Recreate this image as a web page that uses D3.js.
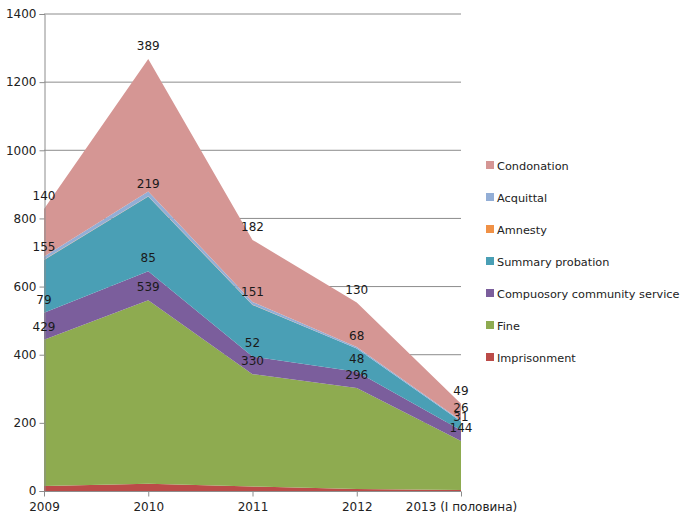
<!DOCTYPE html>
<html>
<head>
<meta charset="utf-8">
<script src="https://cdn.jsdelivr.net/npm/d3@7"></script>
<style>
  body { margin: 0; background: #fff; }
  svg { display: block; font-family: "DejaVu Sans", sans-serif; }
</style>
</head>
<body>
<svg id="chart" width="685" height="518"></svg>
<script>
// Categories (years)
const years = ["2009", "2010", "2011", "2012", "2013 (I половина)"];

// Series values, bottom to top of the stack
const imprisonment = [15, 21, 13, 6, 3];
const fine = [429, 539, 330, 296, 144];
const communityService = [79, 85, 52, 48, 31];
const summaryProbation = [155, 219, 151, 68, 26];
const amnesty = [1, 1, 1, 0, 0];
const acquittal = [9, 14, 8, 5, 3];
const condonation = [140, 389, 182, 130, 49];

const seriesNames = ["Imprisonment", "Fine", "Compuosory community service",
  "Summary probation", "Amnesty", "Acquittal", "Condonation"];
const seriesValues = [imprisonment, fine, communityService, summaryProbation,
  amnesty, acquittal, condonation];
const seriesColors = ["#bb4b48", "#8eab50", "#7b5e9c", "#4a9fb5",
  "#f09146", "#93aed6", "#d59694"];
// Series whose values are printed on the chart
const labelled = new Set(["Fine", "Compuosory community service", "Summary probation", "Condonation"]);

const yTicks = [0, 200, 400, 600, 800, 1000, 1200, 1400];

const rows = years.map((y, i) => {
  const r = { year: y };
  seriesNames.forEach((n, k) => r[n] = seriesValues[k][i]);
  return r;
});

const svg = d3.select("#chart");
const x = d3.scalePoint().domain(years).range([44, 461]);
const y = d3.scaleLinear().domain([0, 1400]).range([491, 14]);

// Gridlines
svg.append("g").selectAll("line").data(yTicks.slice(1)).join("line")
  .attr("x1", 44).attr("x2", 461)
  .attr("y1", d => y(d)).attr("y2", d => y(d))
  .attr("stroke", "#8c8c8c").attr("stroke-width", 1);

// Stacked areas
const stack = d3.stack().keys(seriesNames)(rows);
const area = d3.area()
  .x(d => x(d.data.year))
  .y0(d => y(d[0]))
  .y1(d => y(d[1]));

svg.append("g").selectAll("path").data(stack).join("path")
  .attr("d", area)
  .attr("fill", (d, i) => seriesColors[i]);

// Axes
const yAxis = d3.axisLeft(y).tickValues(yTicks).tickFormat(d3.format("d"))
  .tickSize(5).tickPadding(3);
const gy = svg.append("g").attr("transform", "translate(44.5,0)").call(yAxis);
gy.select(".domain").attr("stroke", "#8c8c8c");
gy.selectAll(".tick line").attr("stroke", "#8c8c8c");
gy.selectAll(".tick text").attr("font-size", 12).attr("fill", "#222")
  .attr("font-family", "DejaVu Sans, sans-serif");

const xAxis = d3.axisBottom(x).tickSize(5).tickPadding(6);
const gx = svg.append("g").attr("transform", "translate(0,491.5)").call(xAxis);
gx.select(".domain").attr("stroke", "#8c8c8c").attr("d", "M44,0H461");
gx.selectAll(".tick line").attr("stroke", "#8c8c8c");
gx.selectAll(".tick text").attr("font-size", 12).attr("fill", "#222")
  .attr("font-family", "DejaVu Sans, sans-serif");

// Data labels above each labelled series' upper edge
const labels = [];
stack.forEach(s => {
  if (!labelled.has(s.key)) return;
  s.forEach(d => labels.push({ key: s.key, year: d.data.year, top: d[1], value: d.data[s.key] }));
});
svg.append("g").selectAll("text").data(labels).join("text")
  .attr("x", d => x(d.year))
  .attr("y", d => y(d.top) - 9)
  .attr("text-anchor", "middle")
  .attr("font-size", 12)
  .attr("fill", "#1a1a1a")
  .text(d => d.value);

// Legend, top entry is the top of the stack
const legendItems = seriesNames.map((n, i) => ({ name: n, color: seriesColors[i] })).reverse();
const lg = svg.append("g").selectAll("g").data(legendItems).join("g")
  .attr("transform", (d, i) => `translate(486,${165 + i * 32})`);
lg.append("rect").attr("x", 0).attr("y", -4).attr("width", 8).attr("height", 8)
  .attr("fill", d => d.color);
lg.append("text").attr("x", 11).attr("y", 4.5)
  .attr("font-size", 11.3).attr("fill", "#222")
  .text(d => d.name);
</script>
</body>
</html>
